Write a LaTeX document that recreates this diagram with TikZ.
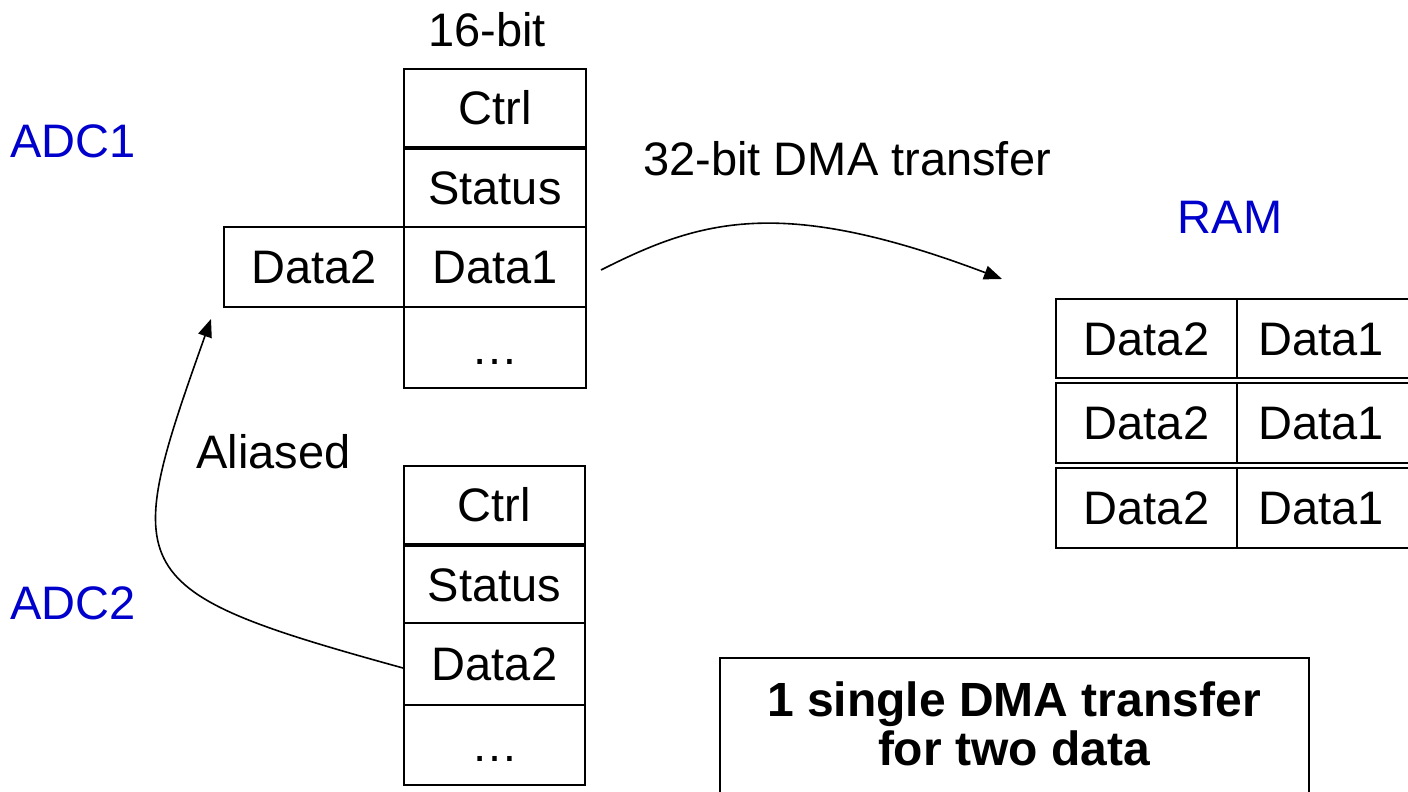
\documentclass[tikz,border=0pt]{standalone}
\usepackage{fontspec}
\setmainfont{Liberation Sans}
\usetikzlibrary{arrows.meta}
\definecolor{adcblue}{RGB}{0,0,204}
\tikzset{
  cell/.style={draw, line width=1pt, inner sep=0pt, text height=16.8pt, text depth=0pt,
    font=\fontsize{23.5pt}{28pt}\selectfont},
  lbl/.style={inner sep=0pt, font=\fontsize{23.5pt}{28pt}\selectfont},
  bluelbl/.style={lbl, text=adcblue},
  conn/.style={line width=0.8pt, -{Triangle[length=9pt, width=7pt]}},
}
\begin{document}
\begin{tikzpicture}[x=0.5pt, y=-0.5pt]
\useasboundingbox (0,0) rectangle (1408,792);
\clip (0,0) rectangle (1408,792);
\fill[white] (0,0) rectangle (1408,792);

% top stack (ADC1)
\node[cell, minimum width=91pt, minimum height=39pt] (tctrl) at (495,108) {Ctrl};
\node[cell, minimum width=91pt, minimum height=39pt] (tstat) at (495,188) {Status};
\node[cell, minimum width=91pt, minimum height=40pt] (td1) at (495,267) {Data1};
\node[cell, minimum width=91pt, minimum height=40.5pt] (tdots) at (495,347.5) {\dots};
\node[cell, minimum width=90pt, minimum height=40pt] (td2) at (314,267) {Data2};

% bottom stack (ADC2)
\node[cell, minimum width=90.5pt, minimum height=39pt] (bctrl) at (494.5,505) {Ctrl};
\node[cell, minimum width=90.5pt, minimum height=38.5pt] (bstat) at (494.5,584.5) {Status};
\node[cell, minimum width=90.5pt, minimum height=41pt] (bd2) at (494.5,664) {Data2};
\node[cell, minimum width=90.5pt, minimum height=40pt] (bdots) at (494.5,745) {\dots};

% RAM table
\node[cell, minimum width=90.5pt, minimum height=39.5pt] (r1a) at (1146.5,338.5) {Data2};
\node[cell, minimum width=92pt, minimum height=39.5pt] (r1b) at (1329,338.5) {\hspace*{-8pt}Data1};
\node[cell, minimum width=90.5pt, minimum height=40pt] (r2a) at (1146.5,423) {Data2};
\node[cell, minimum width=92pt, minimum height=40pt] (r2b) at (1329,423) {\hspace*{-8pt}Data1};
\node[cell, minimum width=90.5pt, minimum height=40pt] (r3a) at (1146.5,508) {Data2};
\node[cell, minimum width=92pt, minimum height=40pt] (r3b) at (1329,508) {\hspace*{-8pt}Data1};

% labels
\node[lbl, anchor=base] (bits) at (487,47) {16-bit};
\node[bluelbl, anchor=base west] (adc1) at (10,157) {ADC1};
\node[bluelbl, anchor=base west] (adc2) at (10,619) {ADC2};
\node[bluelbl, anchor=base] (ram) at (1230,233) {RAM};
\node[lbl, anchor=base west] (dma) at (643,176) {32-bit DMA transfer};
\node[lbl, anchor=base west] (alias) at (196,468) {Aliased};

% note box
\node[draw, line width=1pt, minimum width=294.5pt, minimum height=80pt, anchor=north west, inner sep=0pt] (note) at (719,657) {};
\node[inner sep=0pt, anchor=base, align=center, font=\fontsize{24pt}{24.5pt}\selectfont\bfseries] (notetext) at (1014,765) {1 single DMA transfer\\for two data};

% connectors
\coordinate (a1s) at ([xshift=7pt, yshift=-1.5pt]td1.east);
\coordinate (a1e) at (1002,279);
\draw[conn] (a1s) .. controls (700,220) and (780,195) .. (a1e);
\coordinate (a2s) at ([yshift=-2pt]bd2.west);
\coordinate (a2e) at ([xshift=-6pt, yshift=-5.5pt]td2.south west);
\draw[conn] (a2s) .. controls (120,590) and (120,575) .. (a2e);
\end{tikzpicture}
\end{document}
